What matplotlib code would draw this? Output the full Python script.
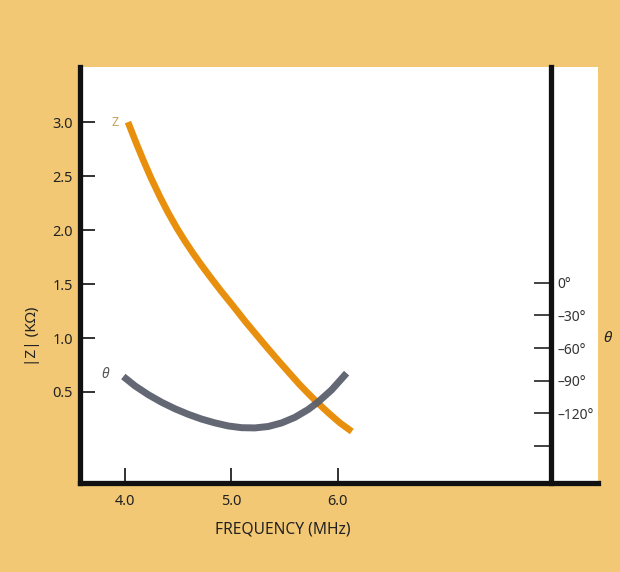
import matplotlib
matplotlib.use("Agg")
import matplotlib.pyplot as plt

# |Z| curve (K ohm) vs frequency (MHz)
freq_z = [4.028, 4.094, 4.169, 4.244, 4.329, 4.404, 4.488, 4.563, 4.638, 4.714,
          4.798, 4.901, 5.014, 5.127, 5.230, 5.333, 5.437, 5.540, 5.643, 5.728,
          5.803, 5.915, 6.019, 6.131]
z_vals = [3.000, 2.834, 2.653, 2.483, 2.307, 2.163, 2.017, 1.898, 1.787, 1.681,
          1.569, 1.437, 1.299, 1.157, 1.035, 0.914, 0.795, 0.680, 0.566, 0.480,
          0.406, 0.303, 0.214, 0.134]

# phase angle theta (degrees) vs frequency
freq_t = [3.984, 4.094, 4.219, 4.345, 4.469, 4.594, 4.720, 4.845, 4.970, 5.096,
          5.221, 5.346, 5.472, 5.596, 5.721, 5.815, 5.941, 6.082]
theta_vals = [86.2, 94.8, 102.9, 109.9, 115.8, 120.9, 125.3, 128.8, 131.6, 133.2,
              133.4, 132.1, 128.8, 123.7, 116.5, 109.5, 98.5, 83.1]

x_ticks = [4.0, 5.0, 6.0]
x_labels = ["4.0", "5.0", "6.0"]
y_ticks = [0.5, 1.0, 1.5, 2.0, 2.5, 3.0]
y_labels = ["0.5", "1.0", "1.5", "2.0", "2.5", "3.0"]
deg_ticks = [0, 30, 60, 90, 120, 150]
deg_labels = ["0°", "–30°", "–60°", "–90°", "–120°", ""]

tan = "#F3C874"
orange = "#E8900E"
grey = "#5B606C"
ink = "#222222"

plt.rcParams["font.family"] = ["Noto Sans", "DejaVu Sans"]

fig = plt.figure(figsize=(6.2, 5.72), dpi=100, facecolor=tan)
ax = fig.add_axes([0.129, 0.1556, 0.835, 0.727])
ax.set_facecolor("white")

ax.plot(freq_z, z_vals, color=orange, lw=4.8, solid_capstyle="butt",
        solid_joinstyle="round", zorder=3)

ax.set_xlim(3.577, 8.441)
ax.set_ylim(-0.343, 3.509)
ax.set_xticks(x_ticks)
ax.set_xticklabels(x_labels)
ax.set_yticks(y_ticks)
ax.set_yticklabels(y_labels)
ax.tick_params(axis="both", direction="in", length=11, width=1.3, colors=ink,
               labelsize=10.5, pad=5)
ax.tick_params(axis="x", pad=8)

for s in ["top", "right"]:
    ax.spines[s].set_visible(False)
for s in ["left", "bottom"]:
    ax.spines[s].set_linewidth(3.8)
    ax.spines[s].set_color("#111111")

# right-hand theta scale, placed at 8.0 MHz
ax2 = ax.twinx()
ax2.plot(freq_t, theta_vals, color=grey, lw=5.0, solid_capstyle="butt",
         solid_joinstyle="round", zorder=2, alpha=0.95)
ax2.set_ylim(184, -198)
ax2.set_yticks(deg_ticks)
ax2.set_yticklabels(deg_labels)
ax2.spines["right"].set_position(("data", 8.0))
ax2.spines["right"].set_linewidth(3.8)
ax2.spines["right"].set_color("#111111")
for s in ["top", "left", "bottom"]:
    ax2.spines[s].set_visible(False)
ax2.tick_params(axis="y", direction="in", length=12, width=1.3, colors="#333333",
                labelsize=10, pad=5)

ax.text(3.905, 3.0, "Z", color="#C9A25A", fontsize=9, ha="center", va="center")
ax.text(3.81, 0.66, "θ", color="#555555", fontsize=10, style="italic",
        ha="center", va="center")

fig.text(607 / 620, 1 - 338 / 572, "θ", fontsize=11, style="italic", color=ink,
         ha="center", va="center")
fig.text(283 / 620, 1 - 530 / 572, "FREQUENCY (MHz)", fontsize=11.2, color=ink,
         ha="center", va="center")
fig.text(33 / 620, 1 - 336 / 572, "|Z| (KΩ)", fontsize=11, color=ink, rotation=90,
         ha="center", va="center")

fig.savefig("out.png", dpi=100, facecolor=tan)
